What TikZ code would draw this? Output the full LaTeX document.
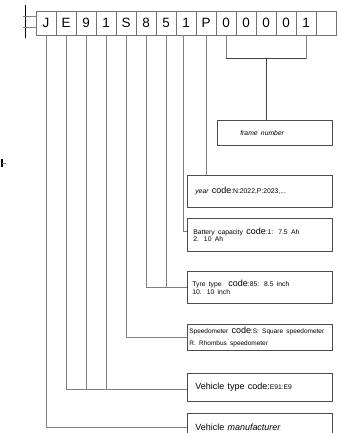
\documentclass[tikz,border=0pt]{standalone}
\usepackage{fontspec}
\setmainfont{Liberation Sans}
\usetikzlibrary{positioning}

\newcommand{\sm}{\fontsize{6.8}{7.8}\selectfont}
\newcommand{\md}{\fontsize{9}{9}\selectfont}

\begin{document}
\begin{tikzpicture}[x=1bp,y=-1bp]
            \tikzstyle{every node}+=[inner sep=0pt]
            \tikzstyle{cell}=[draw=gray!90!black, line width=0.7bp, minimum width=20bp, minimum height=24bp, text height=9.5bp, text depth=0pt, font=\fontsize{13.5}{13.5}\selectfont]
            \tikzstyle{infobox}=[draw=gray!60!black, line width=0.7bp, anchor=north west, align=left, minimum width=144.5bp]
            \tikzstyle{link}=[gray, line width=0.7bp]
            \useasboundingbox (0,0) rectangle (338,433);
            % the code row
            \foreach \ch [count=\i] in {J,E,9,1,S,8,5,1,P,0,0,0,0,1,{}}
                \node [cell] (c\i) at (26+20*\i,23) {\ch};
            % left mark
            \draw [black, line width=1bp] (25,5) -- (25,38);
            \draw [gray, line width=0.5bp] (23,16) -- (36,16);
            \draw [gray, line width=0.5bp] (23,27) -- (36,27);
            \draw [black, line width=1.5bp] (2,159) -- (2,167);
            \draw [gray, line width=0.5bp] (2,163) -- (6,163);
            % boxes
            \node [infobox, minimum width=114.5bp, text width=68.5bp, inner xsep=23bp, minimum height=25bp] (frame) at (217,120) {\fontsize{6.8}{8}\selectfont\itshape frame number};
            \node [infobox, minimum height=32bp, text width=128.5bp, inner xsep=8bp] (year) at (187,175) {{\sm\itshape year} \md code{\sm:N:2022,P:2023,...}};
            \node [infobox, minimum height=33bp, text width=132.5bp, inner xsep=6bp] (batt) at (187,218) {\sm Battery capacity {\md code}:1: 7.5 Ah\\2. 10 Ah\\[2bp]};
            \node [infobox, minimum height=32bp, text width=134.5bp, inner xsep=5bp] (tyre) at (187,271) {\sm Tyre type\quad {\md code}:85: 8.5 inch\\10. 10 inch\\[1bp]};
            \node [infobox, minimum height=26bp, text width=140.5bp, inner xsep=2bp] (speedo) at (187,324) {\fontsize{6.5}{8.5}\selectfont\mbox{Speedometer {\md code}:S: Square speedometer}\\R. Rhombus speedometer};
            \node [infobox, minimum height=28bp, text width=128.5bp, inner xsep=8bp] (vtype) at (187,373) {\md Vehicle type code:{\sm E91:E9}};
            \node [infobox, minimum height=28bp, text width=128.5bp, inner xsep=8bp] (manuf) at (187,413) {\md Vehicle \textit{manufacturer}};
            % connectors
            \coordinate (br) at (266,58);
            \draw [link] (c10.south) -- (c10.south |- br) -- (c14.south |- br) -- (c14.south);
            \draw [black!75, line width=0.7bp] (c10.south |- br) -- (c14.south |- br);
            \draw [black!75, line width=0.7bp] (br) -- (br |- frame.north);
            \draw [link] (c9.south) -- (c9.south |- year.north);
            \draw [link] ([xshift=-3bp]c8.south) |- ([yshift=4bp]batt.west);
            \draw [link] (c6.south) |- (tyre.west);
            \draw [link] (c7.south) -- (c7.south |- tyre.west);
            \draw [link] (c5.south) |- (speedo.west);
            \coordinate (vt) at ([yshift=-2bp]vtype.west);
            \draw [link] (c2.south) |- (vt);
            \draw [link] (c3.south) -- (c3.south |- vt);
            \draw [link] (c4.south) -- (c4.south |- vt);
            \draw [link] (c1.south) |- (manuf.west);
        \end{tikzpicture}
\end{document}
